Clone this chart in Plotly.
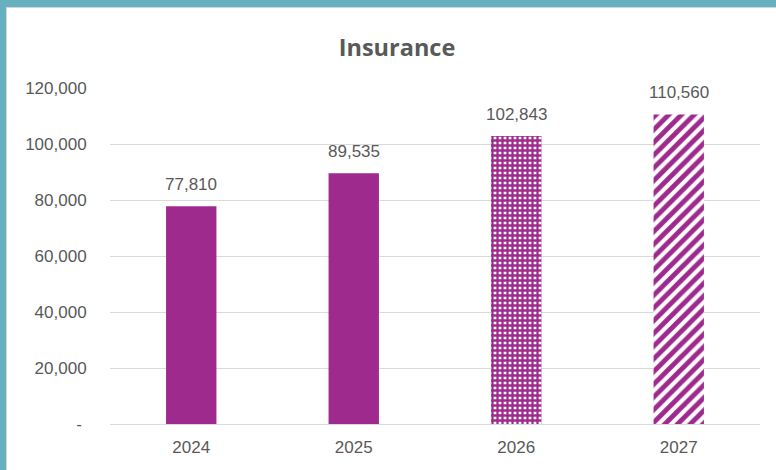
import plotly.graph_objects as go

years = ["2024", "2025", "2026", "2027"]
values = [77810, 89535, 102843, 110560]
patterns = ["", "", "+", "/"]
y_ticks = [0, 20000, 40000, 60000, 80000, 100000, 120000]
y_tick_labels = ["-\u00a0", "20,000", "40,000", "60,000", "80,000", "100,000", "120,000"]

W, H = 776, 470
ML, MR, MT, MB = 110, 16, 88, 46
PW, PH = W - ML - MR, H - MT - MB

def to_px(x):
    return (x - ML) / PW

def to_py(y):
    return (H - MB - y) / PH

purple = "#9E2A8E"
teal = "#66B0BF"
grey_text = "#595959"

fig = go.Figure()
fig.add_trace(go.Bar(
    x=years, y=values,
    marker=dict(color=purple, line=dict(width=0),
                pattern=dict(shape=patterns, fgcolor=purple, bgcolor="white",
                             fgopacity=1, size=[8, 8, 5, 9],
                             solidity=[0.5, 0.5, 0.7, 0.55])),
    hoverinfo="skip",
))

annotations = []
for i, v in enumerate(values):
    annotations.append(dict(x=i, y=v, xref="x", yref="y", text=f"{v:,}",
                            showarrow=False, yanchor="bottom", yshift=10,
                            font=dict(size=17, color=grey_text, family="Liberation Sans")))

shapes = [
    dict(type="rect", xref="paper", yref="paper", x0=to_px(0), x1=to_px(W), y0=to_py(8), y1=to_py(7),
         fillcolor="#D4D4D4", line=dict(width=0), layer="below"),
    dict(type="rect", xref="paper", yref="paper", x0=to_px(6), x1=to_px(7), y0=to_py(H), y1=to_py(7),
         fillcolor="#D4D4D4", line=dict(width=0), layer="below"),
    dict(type="rect", xref="paper", yref="paper", x0=to_px(0), x1=to_px(W), y0=to_py(7), y1=to_py(0),
         fillcolor=teal, line=dict(width=0), layer="below"),
    dict(type="rect", xref="paper", yref="paper", x0=to_px(0), x1=to_px(6), y0=to_py(H), y1=to_py(0),
         fillcolor=teal, line=dict(width=0), layer="below"),
]

fig.update_layout(
    width=W, height=H,
    margin=dict(l=ML, r=MR, t=MT, b=MB, pad=0),
    paper_bgcolor="white", plot_bgcolor="white",
    bargap=0.69,
    showlegend=False,
    title=dict(text="<b>Insurance</b>", x=397 / W, xref="container", xanchor="center",
               y=1 - 48 / H, yref="container", yanchor="middle",
               font=dict(size=23.5, color=grey_text, family="Open Sans")),
    font=dict(family="Liberation Sans", size=17, color=grey_text),
    annotations=annotations,
    shapes=shapes,
    xaxis=dict(type="category", categoryorder="array", categoryarray=years,
               range=[-0.5, len(years) - 0.5],
               showgrid=False, showline=False, zeroline=False,
               ticks="outside", ticklen=8, tickcolor="rgba(0,0,0,0)",
               tickfont=dict(size=17, color=grey_text)),
    yaxis=dict(range=[0, 120000], tickvals=y_ticks, ticktext=y_tick_labels,
               showgrid=True, gridcolor="#D9D9D9", gridwidth=1.3,
               zeroline=True, zerolinecolor="#D9D9D9", zerolinewidth=1.3,
               showline=False, ticks="outside", ticklen=19, tickcolor="rgba(0,0,0,0)",
               tickfont=dict(size=17, color=grey_text)),
)

fig.write_html("out.html", config={"displayModeBar": False},
               post_script="document.body.style.margin='0';")
